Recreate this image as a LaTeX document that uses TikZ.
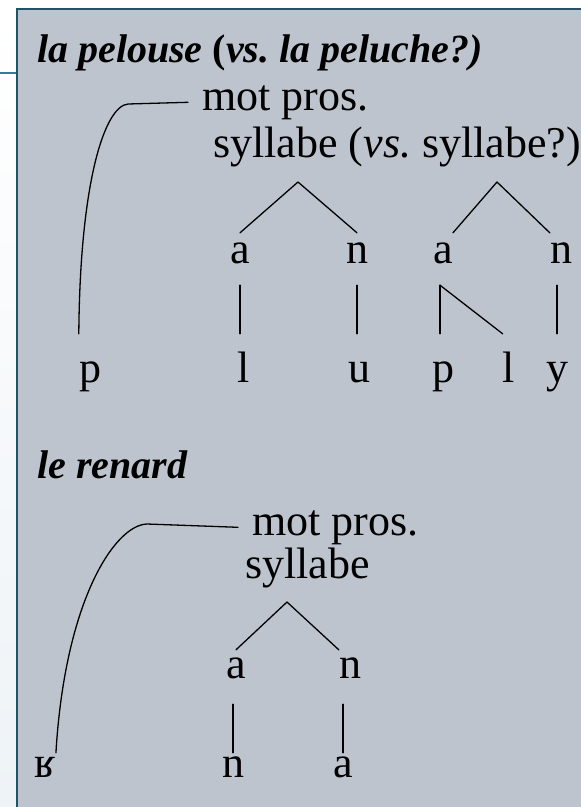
\documentclass[tikz,border=0pt]{standalone}
\usepackage{fontspec}
\setmainfont{Liberation Serif}
\frenchspacing
\begin{document}
\begin{tikzpicture}[x=1pt,y=-1pt,
  body/.style={font=\fontsize{44}{50}\selectfont, inner sep=0pt},
  heading/.style={font=\fontsize{40}{46}\selectfont\bfseries\itshape, anchor=base west, inner sep=0pt},
  label/.style={body, anchor=base west, inner sep=14pt},
  upperA/.style={body, anchor=base, text height=20pt, text depth=12pt, inner ysep=10pt},
  lowerA/.style={body, anchor=base, text height=38pt, text depth=0pt, inner ysep=10pt},
  upperB/.style={body, anchor=base, text height=18pt, text depth=16pt, inner ysep=10pt},
  lowerB/.style={body, anchor=base, text height=14pt, text depth=0pt, inner ysep=10pt},
  branch/.style={line width=1.3pt, line cap=round},
]
\definecolor{panel}{HTML}{BEC4CE}
\definecolor{frame}{HTML}{1E5566}
\definecolor{accent}{HTML}{2E7F9E}
\definecolor{pale}{HTML}{EEF3F7}

% page and panel
\useasboundingbox (0,0) rectangle (581,807);
\fill[white] (0,0) rectangle (581,807);
\shade[top color=white, bottom color=pale] (0,9) rectangle (17,807);
\fill[panel] (17,9) rectangle (581,807);
\draw[frame, line width=2.5pt] (581,9) -- (17,9) -- (17,807);
\draw[accent, line width=2pt] (0,73) -- (16,73);

% ---- la pelouse ----
\node[heading] (t1) at (37,62) {\textit{la pelouse} \textup{(}vs. la peluche?)};
\node[label] (mp1) at (188,110) {mot pros.};
\node[body, anchor=base west] (sy1) at (213,157) {syllabe (\textit{vs.}};
\node[body, anchor=base west] (sy2) at (422,157) {syllabe?)};
\coordinate (ap1) at (298,182);
\coordinate (ap2) at (497,182);

\node[upperA] (a1) at (240,263) {a};
\node[upperA] (n1) at (357,263) {n};
\node[upperA] (a2) at (443,263) {a};
\node[upperA] (n2) at (561,263) {n};

\node[lowerA] (p1) at (90,382) {p};
\node[lowerA] (l1) at (244,382) {l};
\node[lowerA] (u1) at (359,382) {u};
\node[lowerA] (p2) at (443,382) {p};
\node[lowerA] (l2) at (509,382) {l};
\node[lowerA] (y1) at (557,382) {y};

\draw[branch] (ap1) -- (a1.north);
\draw[branch] (ap1) -- (n1.north);
\draw[branch] (ap2) -- (a2.north east);
\draw[branch] (ap2) -- (n2.north west);
\draw[branch] (a1.south) -- (a1.south |- l1.north);
\draw[branch] (n1.south) -- (n1.south |- u1.north);
\draw[branch] ([xshift=-3pt]a2.south) -- ([xshift=-3pt]a2.south |- p2.north);
\draw[branch] ([xshift=-3pt]a2.south) -- (l2.north west);
\draw[branch] ([xshift=-4pt]n2.south) -- ([xshift=-4pt]n2.south |- y1.north);

\coordinate (c1) at (128,104);
\draw[branch] (mp1.west) -- (c1) .. controls (105,106) and (80,180) .. (p1.north west);

% ---- le renard ----
\node[heading] (t2) at (37,478) {le renard};
\node[label] (mp2) at (238,535) {mot pros.};
\node[body, anchor=base west] (sy3) at (245,578) {syllabe};
\coordinate (ap3) at (287,602);

\node[upperB] (a3) at (236,678) {a};
\node[upperB] (n3) at (350,678) {n};
\node[lowerB] (r1) at (45,777) {ʁ};
\node[lowerB] (n4) at (233,777) {n};
\node[lowerB] (a4) at (343,777) {a};

\draw[branch] (ap3) -- (a3.north);
\draw[branch] (ap3) -- (n3.north west);
\draw[branch] (n4.north) -- (n4.north |- a3.south);
\draw[branch] (a4.north) -- (a4.north |- n3.south);

\coordinate (c2) at (147,524);
\draw[branch] (mp2.west) -- (c2) .. controls (115,525) and (65,600) .. (r1.north east);
\end{tikzpicture}
\end{document}
